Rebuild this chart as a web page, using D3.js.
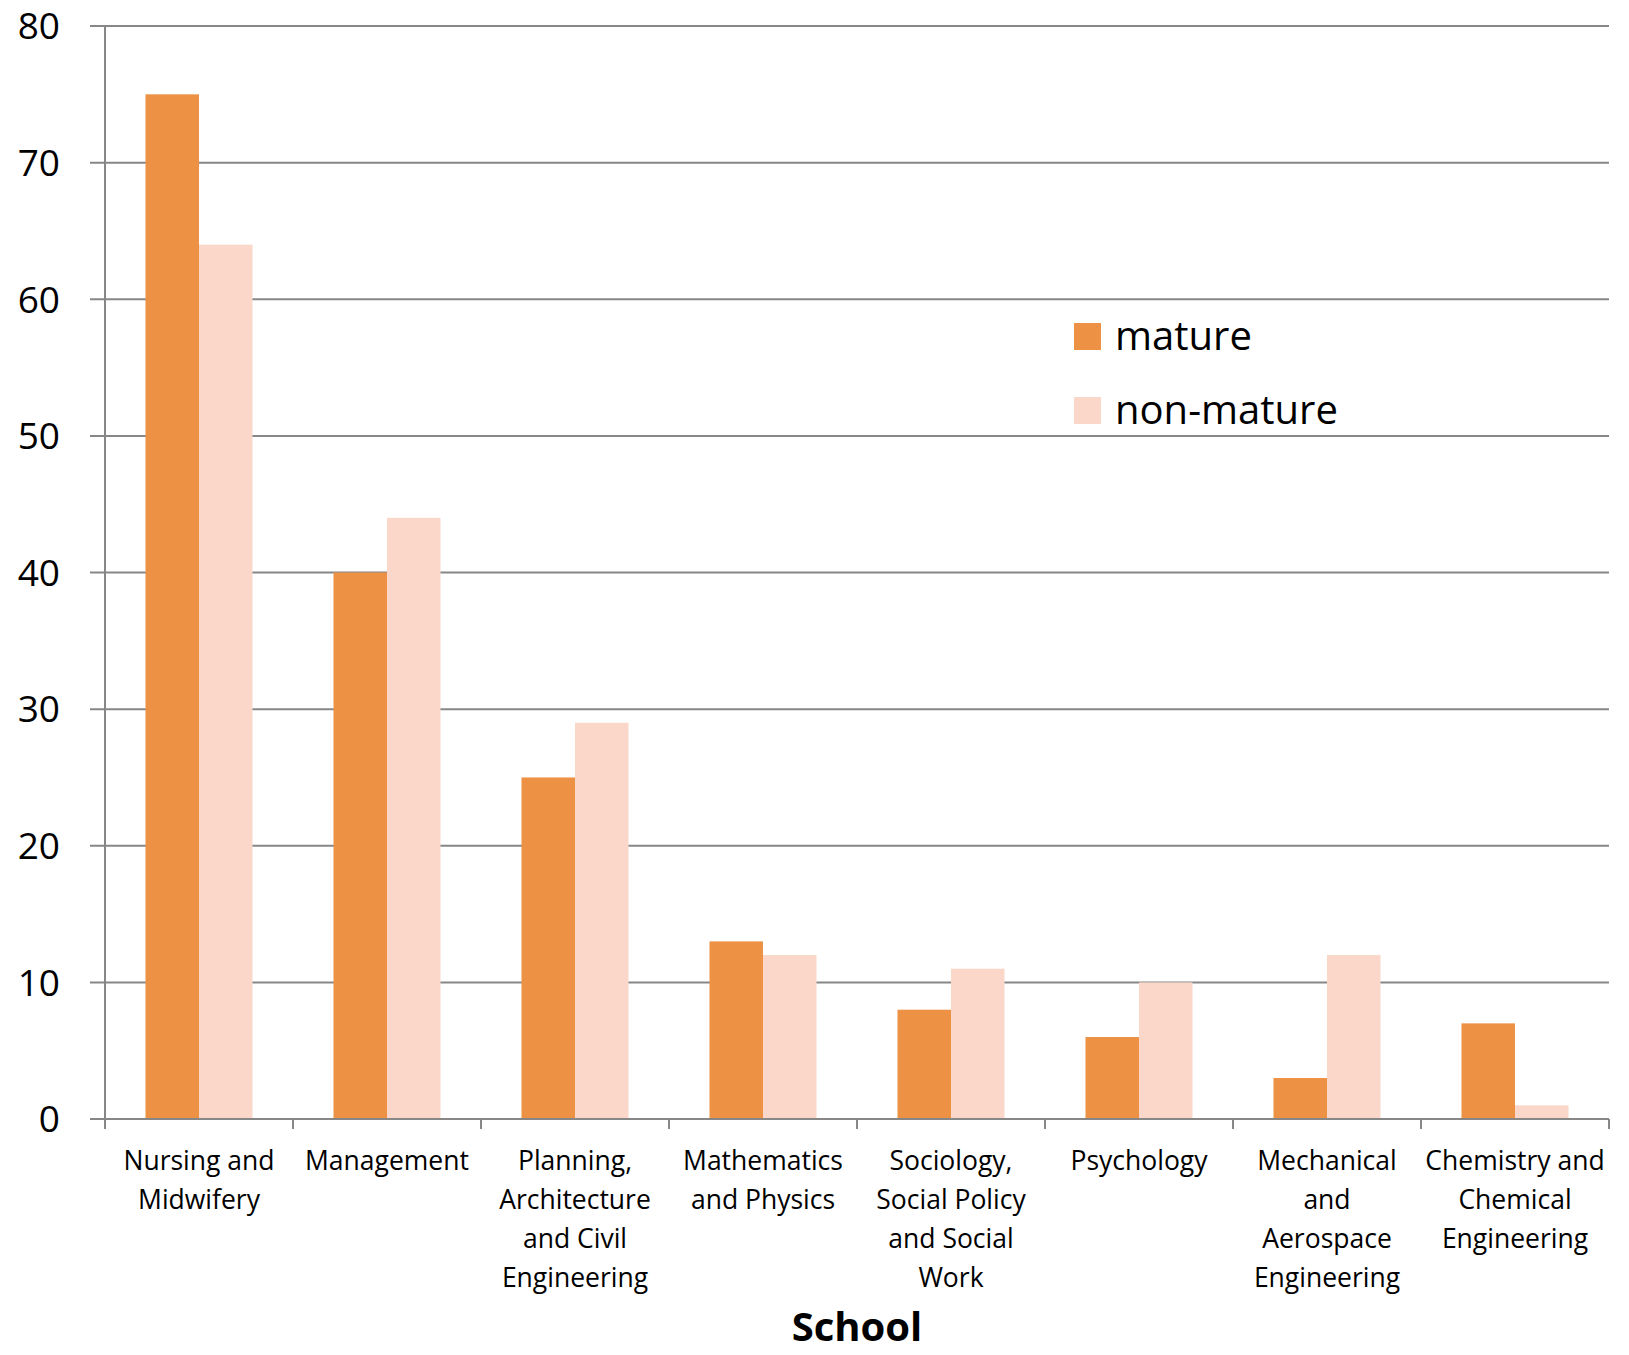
<!DOCTYPE html>
<html>
<head>
<meta charset="utf-8">
<script src="https://cdn.jsdelivr.net/npm/d3@7"></script>
<style>
  body { margin: 0; background: #fff; }
  text { font-family: "Open Sans", "Noto Sans", sans-serif; fill: #000; }
</style>
</head>
<body>
<svg id="chart" width="1629" height="1355"></svg>
<script>
const categories = [
  "Nursing and Midwifery",
  "Management",
  "Planning, Architecture and Civil Engineering",
  "Mathematics and Physics",
  "Sociology, Social Policy and Social Work",
  "Psychology",
  "Mechanical and Aerospace Engineering",
  "Chemistry and Chemical Engineering"
];
// how each category label wraps on the axis
const categoryLines = [
  ["Nursing and", "Midwifery"],
  ["Management"],
  ["Planning,", "Architecture", "and Civil", "Engineering"],
  ["Mathematics", "and Physics"],
  ["Sociology,", "Social Policy", "and Social", "Work"],
  ["Psychology"],
  ["Mechanical", "and", "Aerospace", "Engineering"],
  ["Chemistry and", "Chemical", "Engineering"]
];
const seriesNames = ["mature", "non-mature"];
const mature = [75, 40, 25, 13, 8, 6, 3, 7];
const nonMature = [64, 44, 29, 12, 11, 10, 12, 1];
const yTicks = [0, 10, 20, 30, 40, 50, 60, 70, 80];
const seriesColors = ["#ED9245", "#FAD7C8"];

const margin = { top: 26, right: 20, bottom: 236, left: 105 };
const width = 1629, height = 1355;
const svg = d3.select("#chart");

const data = categories.map((c, i) => ({ cat: c, values: [mature[i], nonMature[i]] }));

const x0 = d3.scaleBand()
  .domain(categories)
  .range([margin.left, width - margin.right])
  .padding(0);

const x1 = d3.scaleBand()
  .domain(seriesNames)
  .range([0, x0.bandwidth()])
  .paddingInner(0)
  .paddingOuter(0.757);

const y = d3.scaleLinear()
  .domain([0, 80])
  .range([height - margin.bottom, margin.top]);

const color = d3.scaleOrdinal().domain(seriesNames).range(seriesColors);
const axisGrey = "#878787";

// gridlines
svg.append("g")
  .selectAll("line")
  .data(yTicks)
  .join("line")
  .attr("x1", margin.left - 15)
  .attr("x2", width - margin.right)
  .attr("y1", d => y(d))
  .attr("y2", d => y(d))
  .attr("stroke", axisGrey)
  .attr("stroke-width", 2);

// y tick labels
svg.append("g")
  .selectAll("text")
  .data(yTicks)
  .join("text")
  .attr("x", 60)
  .attr("y", d => y(d))
  .attr("dy", "0.36em")
  .attr("text-anchor", "end")
  .style("font-size", "37px")
  .text(d => d);

// bars
svg.append("g")
  .selectAll("g")
  .data(data)
  .join("g")
  .attr("transform", d => `translate(${x0(d.cat)},0)`)
  .selectAll("rect")
  .data(d => d.values.map((v, i) => ({ key: seriesNames[i], value: v })))
  .join("rect")
  .attr("x", d => x1(d.key))
  .attr("width", x1.bandwidth())
  .attr("y", d => y(d.value))
  .attr("height", d => y(0) - y(d.value))
  .attr("fill", d => color(d.key));

// y axis line
svg.append("line")
  .attr("x1", margin.left).attr("x2", margin.left)
  .attr("y1", y(80)).attr("y2", y(0) + 10)
  .attr("stroke", axisGrey).attr("stroke-width", 2);

// x axis line and ticks
svg.append("line")
  .attr("x1", margin.left - 15).attr("x2", width - margin.right)
  .attr("y1", y(0)).attr("y2", y(0))
  .attr("stroke", axisGrey).attr("stroke-width", 2);

const boundaries = categories.map(c => x0(c)).concat([x0.range()[1]]);
svg.append("g")
  .selectAll("line")
  .data(boundaries)
  .join("line")
  .attr("x1", d => d).attr("x2", d => d)
  .attr("y1", y(0)).attr("y2", y(0) + 10)
  .attr("stroke", axisGrey).attr("stroke-width", 2);

// category labels
svg.append("g")
  .selectAll("text")
  .data(categories)
  .join("text")
  .attr("x", d => x0(d) + x0.bandwidth() / 2)
  .attr("y", 1170)
  .attr("text-anchor", "middle")
  .style("font-size", "26.5px")
  .each(function (d, i) {
    d3.select(this).selectAll("tspan")
      .data(categoryLines[i])
      .join("tspan")
      .attr("x", x0(d) + x0.bandwidth() / 2)
      .attr("dy", (t, j) => j === 0 ? 0 : 39)
      .text(t => t);
  });

// x axis title
svg.append("text")
  .attr("x", (margin.left + width - margin.right) / 2)
  .attr("y", 1341)
  .attr("text-anchor", "middle")
  .style("font-size", "40px")
  .style("font-weight", "bold")
  .text("School");

// legend
const legend = svg.append("g")
  .selectAll("g")
  .data(seriesNames)
  .join("g")
  .attr("transform", (d, i) => `translate(1074,${323 + i * 74})`);

legend.append("rect")
  .attr("width", 27).attr("height", 27)
  .attr("fill", d => color(d));

legend.append("text")
  .attr("x", 41)
  .attr("y", 27)
  .style("font-size", "40px")
  .text(d => d);
</script>
</body>
</html>
